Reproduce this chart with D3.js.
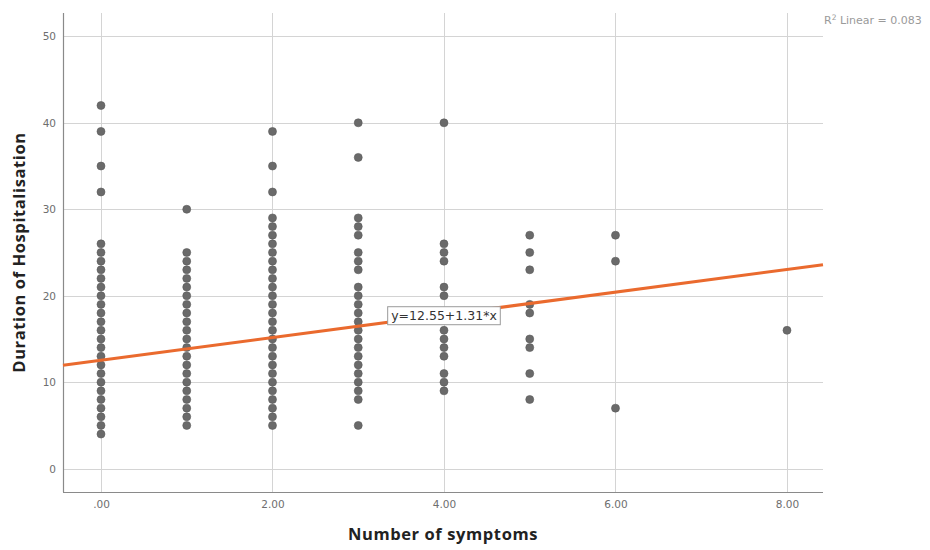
<!DOCTYPE html>
<html>
<head>
<meta charset="utf-8">
<script src="https://cdn.jsdelivr.net/npm/d3@7"></script>
<style>
  html, body { margin: 0; padding: 0; background: #fff; }
  svg { display: block; }
</style>
</head>
<body>
<svg id="chart" width="930" height="550"></svg>
<script>
// Duration of hospitalisation (days) per patient, grouped by number of symptoms
const symptomLevels = [0, 1, 2, 3, 4, 5, 6, 8];
const dur0 = [42, 39, 35, 32, 26, 25, 24, 23, 22, 21, 20, 19, 18, 17, 16, 15, 14, 13, 12, 11, 10, 9, 8, 7, 6, 5, 4];
const dur1 = [30, 25, 24, 23, 22, 21, 20, 19, 18, 17, 16, 15, 14, 13, 12, 11, 10, 9, 8, 7, 6, 5];
const dur2 = [39, 35, 32, 29, 28, 27, 26, 25, 24, 23, 22, 21, 20, 19, 18, 17, 16, 15, 14, 13, 12, 11, 10, 9, 8, 7, 6, 5];
const dur3 = [40, 36, 29, 28, 27, 25, 24, 23, 21, 20, 19, 18, 17, 16, 15, 14, 13, 12, 11, 10, 9, 8, 5];
const dur4 = [40, 26, 25, 24, 21, 20, 16, 15, 14, 13, 11, 10, 9];
const dur5 = [27, 25, 23, 19, 18, 15, 14, 11, 8];
const dur6 = [27, 24, 7];
const dur8 = [16];
const durationGroups = [dur0, dur1, dur2, dur3, dur4, dur5, dur6, dur8];

// Linear fit
const fitIntercept = 12.55;
const fitSlope = 1.31;
const fitR2 = 0.083;

// Axis ticks
const xTicks = [0, 2, 4, 6, 8];
const xTickLabels = [".00", "2.00", "4.00", "6.00", "8.00"];
const yTicks = [0, 10, 20, 30, 40, 50];

const points = [];
symptomLevels.forEach((s, i) => durationGroups[i].forEach(d => points.push({ s, d })));

const svg = d3.select("#chart");
const plot = { left: 63, right: 823, top: 13, bottom: 492 };

const x = d3.scaleLinear().domain([-0.443, 8.42]).range([plot.left, plot.right]);
const y = d3.scaleLinear().domain([-2.7, 52.7]).range([plot.bottom, plot.top]);

const gridColor = "#d4d4d4";

// Grid lines
svg.append("g").selectAll("line").data(yTicks).join("line")
  .attr("x1", plot.left).attr("x2", plot.right)
  .attr("y1", d => Math.round(y(d)) + 0.5).attr("y2", d => Math.round(y(d)) + 0.5)
  .attr("stroke", gridColor).attr("stroke-width", 1);
svg.append("g").selectAll("line").data(xTicks).join("line")
  .attr("y1", plot.top).attr("y2", plot.bottom)
  .attr("x1", d => Math.round(x(d)) + 0.5).attr("x2", d => Math.round(x(d)) + 0.5)
  .attr("stroke", gridColor).attr("stroke-width", 1);

// Axes
const yAxis = d3.axisLeft(y).tickValues(yTicks).tickSize(0).tickPadding(7).tickFormat(d3.format("d"));
const gy = svg.append("g").attr("transform", `translate(${plot.left},0)`).call(yAxis);
const xAxis = d3.axisBottom(x).tickValues(xTicks).tickSize(0).tickPadding(9)
  .tickFormat((d, i) => xTickLabels[i]);
const gx = svg.append("g").attr("transform", `translate(0,${plot.bottom})`).call(xAxis);

[gx, gy].forEach(g => {
  g.select(".domain").attr("stroke", "#8a8a8a").attr("stroke-width", 1.2);
  g.selectAll("text").attr("fill", "#6e6e6e").style("font-family", "'DejaVu Sans', sans-serif").style("font-size", "10.5px");
});
gx.select(".domain").attr("d", `M${plot.left},0.5H${plot.right}`);
gy.select(".domain").attr("d", `M0.5,${plot.top}V${plot.bottom}`);

// Points
svg.append("g").selectAll("circle").data(points).join("circle")
  .attr("cx", p => x(p.s)).attr("cy", p => y(p.d)).attr("r", 4)
  .attr("fill", "#6a6a6a").attr("stroke", "#5a5a5a").attr("stroke-width", 0.6);

// Fit line
const [x0, x1] = x.domain();
svg.append("line")
  .attr("x1", x(x0)).attr("y1", y(fitIntercept + fitSlope * x0))
  .attr("x2", x(x1)).attr("y2", y(fitIntercept + fitSlope * x1))
  .attr("stroke", "#ea6a2e").attr("stroke-width", 3);

// Equation label at x = 4
const eqX = 4;
const eqText = `y=${fitIntercept.toFixed(2)}+${fitSlope.toFixed(2)}*x`;
const eqG = svg.append("g").attr("transform", `translate(${x(eqX)},${y(fitIntercept + fitSlope * eqX)})`);
const eqLabel = eqG.append("text")
  .attr("text-anchor", "middle").attr("dy", "0.35em").attr("y", 1)
  .attr("fill", "#333").style("font-family", "'DejaVu Sans', sans-serif").style("font-size", "12.5px")
  .text(eqText);
const bb = eqLabel.node().getBBox();
eqG.insert("rect", "text")
  .attr("x", bb.x - 3.5).attr("y", bb.y - 1.5).attr("width", bb.width + 7).attr("height", bb.height + 3)
  .attr("fill", "#fff").attr("stroke", "#9a9a9a").attr("stroke-width", 1);

// R-squared note
svg.append("text")
  .attr("x", 824).attr("y", 24)
  .attr("fill", "#9a9a9a").style("font-family", "'DejaVu Sans', sans-serif").style("font-size", "11px")
  .html(`R<tspan dy="-4" font-size="7.5px">2</tspan><tspan dy="4"> Linear = ${fitR2.toFixed(3)}</tspan>`);

// Axis titles
svg.append("text")
  .attr("x", (plot.left + plot.right) / 2).attr("y", 540)
  .attr("text-anchor", "middle").attr("fill", "#222")
  .style("font-family", "'Open Sans', sans-serif").style("font-weight", "bold").style("font-size", "16.5px")
  .style("letter-spacing", "0.6px")
  .text("Number of symptoms");
svg.append("text")
  .attr("transform", `translate(25,${(plot.top + plot.bottom) / 2}) rotate(-90)`)
  .attr("text-anchor", "middle").attr("fill", "#222")
  .style("font-family", "'Open Sans', sans-serif").style("font-weight", "bold").style("font-size", "16.5px")
  .style("letter-spacing", "0.6px")
  .text("Duration of Hospitalisation");
</script>
</body>
</html>
